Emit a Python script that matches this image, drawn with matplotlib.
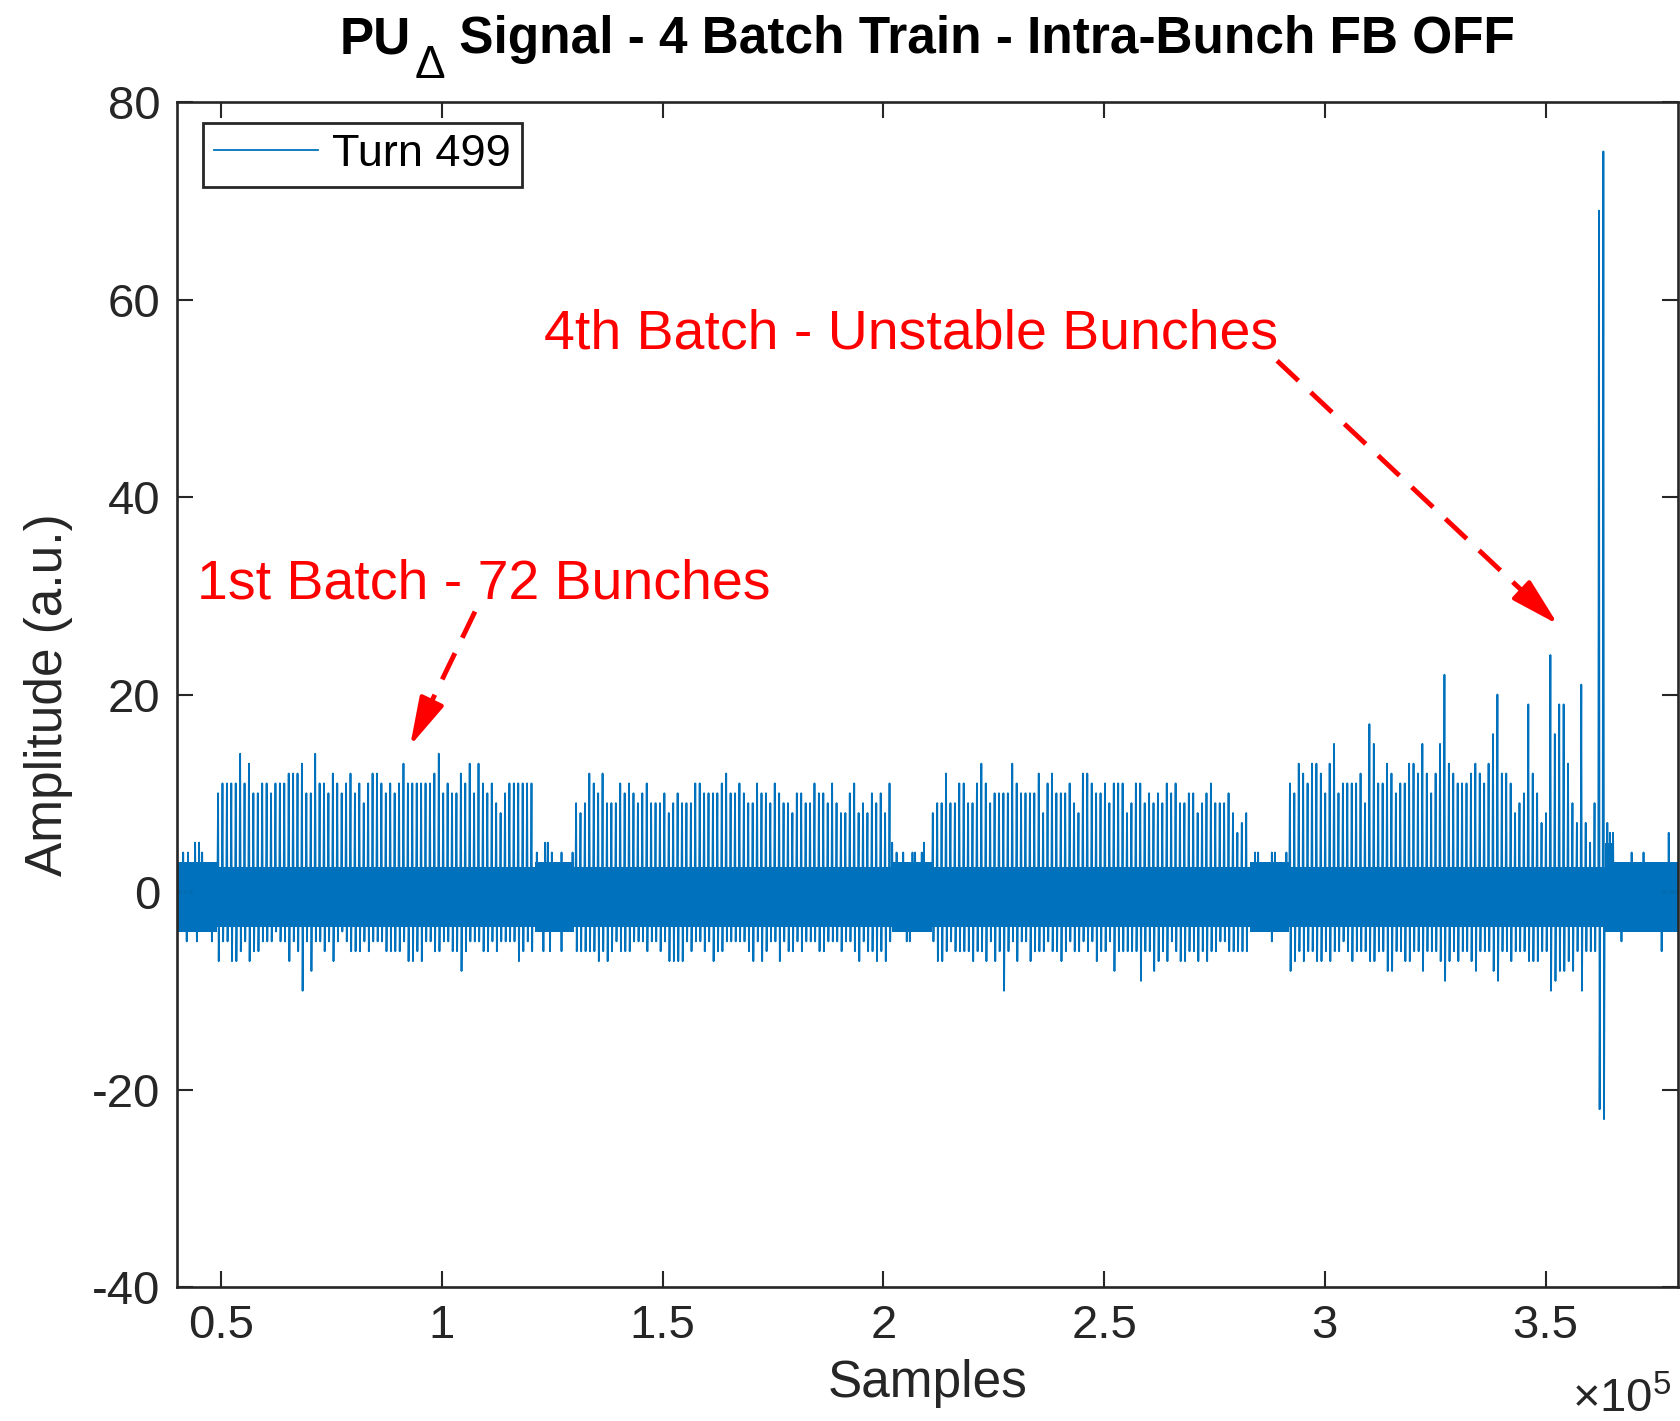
import numpy as np
import matplotlib.pyplot as plt
from matplotlib.ticker import FixedLocator, FuncFormatter

plt.rcParams['font.family'] = ['Liberation Sans', 'DejaVu Sans']
plt.rcParams['mathtext.fontset'] = 'custom'
plt.rcParams['mathtext.rm'] = 'Liberation Sans'
plt.rcParams['mathtext.it'] = 'Liberation Sans:italic'
plt.rcParams['mathtext.bf'] = 'Liberation Sans:bold'
plt.rcParams['axes.unicode_minus'] = False

# ---- data ----
batch_starts = [49300, 130400, 211200, 292100]   # sample of first bunch in each batch
bunch_spacing = 1000

batch1_peaks = [10, 11, 11, 11, 11, 14, 11, 13, 10, 10, 11, 11, 10, 11, 11, 11, 12, 12, 12, 13,
                10, 10, 14, 11, 11, 10, 12, 11, 10, 11, 12, 10, 11, 9, 11, 12, 12, 11, 10, 11,
                10, 11, 13, 11, 11, 11, 11, 11, 11, 12, 14, 10, 11, 10, 10, 12, 11, 13, 10, 13,
                11, 10, 11, 9, 8, 10, 11, 11, 11, 11, 11, 11]
batch1_dips = [-7, -5, -5, -7, -7, -6, -5, -7, -6, -6, -5, -5, -5, -4, -5, -5, -7, -5, -6, -10,
               -5, -8, -5, -5, -6, -5, -7, -5, -4, -5, -6, -6, -6, -5, -6, -5, -5, -5, -6, -6,
               -6, -6, -5, -7, -7, -6, -7, -5, -5, -6, -6, -5, -5, -6, -6, -8, -6, -5, -5, -5,
               -6, -6, -5, -6, -5, -5, -5, -5, -7, -6, -5, -6]

batch2_peaks = [9, 8, 9, 12, 11, 10, 12, 9, 9, 9, 11, 10, 11, 10, 9, 10, 11, 9, 9, 9,
                10, 8, 9, 10, 9, 9, 9, 11, 11, 10, 10, 10, 10, 11, 12, 10, 10, 11, 10, 9,
                9, 11, 10, 10, 9, 11, 10, 9, 9, 8, 10, 10, 9, 9, 11, 10, 10, 9, 11, 9,
                8, 8, 10, 11, 8, 9, 8, 10, 9, 10, 8, 11]
batch2_dips = [-6, -6, -6, -6, -6, -7, -6, -7, -6, -5, -6, -6, -6, -5, -5, -5, -6, -5, -5, -6,
               -5, -7, -7, -7, -7, -5, -6, -5, -5, -6, -5, -7, -6, -6, -5, -5, -5, -5, -5, -6,
               -7, -5, -7, -6, -5, -5, -7, -5, -6, -6, -5, -6, -5, -5, -5, -6, -6, -5, -5, -5,
               -6, -5, -5, -6, -7, -5, -6, -6, -7, -6, -7, -5]

batch3_peaks = [8, 9, 9, 12, 9, 9, 11, 11, 9, 9, 11, 13, 11, 9, 10, 10, 10, 10, 13, 11,
                10, 10, 10, 10, 12, 8, 11, 12, 10, 10, 10, 11, 9, 8, 12, 12, 11, 10, 10, 11,
                9, 11, 11, 11, 8, 9, 11, 11, 9, 10, 9, 10, 9, 11, 10, 11, 9, 9, 10, 10,
                8, 9, 10, 11, 9, 9, 9, 10, 8, 6, 7, 8]
batch3_dips = [-5, -7, -7, -6, -5, -6, -6, -6, -6, -7, -6, -6, -7, -5, -7, -6, -10, -6, -5, -7,
               -5, -5, -7, -6, -6, -6, -5, -6, -6, -7, -6, -5, -6, -6, -5, -6, -5, -7, -6, -6,
               -5, -8, -6, -6, -6, -6, -6, -9, -6, -6, -8, -7, -6, -7, -5, -6, -7, -7, -6, -6,
               -7, -6, -7, -6, -6, -5, -5, -6, -6, -6, -6, -6]

batch4_peaks = [11, 10, 13, 12, 11, 13, 13, 12, 10, 13, 15, 10, 11, 11, 11, 11, 12, 9, 17, 15,
                11, 11, 13, 12, 10, 11, 11, 13, 13, 12, 15, 12, 10, 12, 15, 22, 13, 12, 11, 11,
                11, 12, 13, 12, 11, 13, 16, 20, 12, 12, 11, 8, 9, 10, 19, 12, 10, 7, 8, 24,
                16, 19, 19, 13, 9, 7, 21, 7, 5, 9, 69, 75]
batch4_dips = [-8, -7, -6, -7, -6, -6, -7, -7, -6, -7, -6, -6, -5, -6, -7, -6, -6, -6, -7, -7,
               -6, -6, -8, -8, -6, -6, -7, -7, -6, -6, -8, -6, -6, -6, -7, -9, -7, -6, -7, -6,
               -6, -7, -8, -6, -6, -6, -8, -9, -6, -6, -7, -6, -6, -6, -7, -7, -7, -6, -6, -10,
               -9, -8, -8, -7, -8, -6, -10, -6, -6, -6, -22, -23]

# isolated noise spikes between batches and after the train
gap_up_x = [41400, 42500, 44100, 45000, 45700, 121500, 123400, 124000, 124900, 127100, 129600,
            202000, 203000, 204500, 206600, 207200, 208700, 209200, 284200, 284900, 288000,
            288700, 291300, 364000, 364600, 365300, 369500, 372200, 377900]
gap_up_y = [4, 4, 5, 5, 4, 4, 5, 5, 4, 4, 4,
            5, 4, 4, 4, 4, 4, 5, 4, 4, 4,
            4, 4, 7, 6, 6, 4, 4, 6]
gap_dn_x = [42200, 44500, 47900, 123000, 124500, 127100, 205300, 206000, 288000, 367200, 376300]
gap_dn_y = [-5, -5, -5, -6, -6, -6, -5, -5, -5, -5, -6]

# dense noise core: region edges and band limits
band_edges = [40000, 49000, 121000, 130000, 202000, 211000, 283000, 292000, 363400, 365500, 380000]
band_top = [3, 2.5, 3, 2.5, 3, 2.5, 3, 2.5, 5, 3]
band_bot = [-4, -3.5, -4, -3.5, -4, -3.5, -4, -3.5, -4, -4]

x_ticks = [50000, 100000, 150000, 200000, 250000, 300000, 350000]
y_ticks = [-40, -20, 0, 20, 40, 60, 80]

blue = '#0072BD'
dark = '#262626'

# ---- build the trace ----
events = []
all_peaks = [batch1_peaks, batch2_peaks, batch3_peaks, batch4_peaks]
all_dips = [batch1_dips, batch2_dips, batch3_dips, batch4_dips]
for start, peaks, dips in zip(batch_starts, all_peaks, all_dips):
    for k, (p, d) in enumerate(zip(peaks, dips)):
        x0 = start + k * bunch_spacing
        events.append((x0, [x0 - 150, x0, x0 + 150, x0 + 300], [0, p, d, 0]))
for x0, y0 in zip(gap_up_x + gap_dn_x, gap_up_y + gap_dn_y):
    events.append((x0, [x0 - 100, x0, x0 + 100], [0, y0, 0]))
events.sort(key=lambda e: e[0])

xs = [40000]
ys = [0]
for _, ex, ey in events:
    xs += ex
    ys += ey
xs.append(380000)
ys.append(0)

# ---- figure ----
W, H = 1681, 1421
fig = plt.figure(figsize=(W / 100, H / 100), dpi=100)
ax = fig.add_axes([0.1053, 0.0943, 0.8929, 0.8339])

bx = np.array(band_edges)
ax.fill_between(bx, band_top + [band_top[-1]], band_bot + [band_bot[-1]],
                step='post', color=blue, lw=0)
ax.plot(xs, ys, color=blue, lw=1.3, label='Turn 499')

ax.set_xlim(40000, 380000)
ax.set_ylim(-40, 80)
ax.xaxis.set_major_locator(FixedLocator(x_ticks))
ax.xaxis.set_major_formatter(FuncFormatter(lambda v, p: '%g' % (v / 1e5)))
ax.yaxis.set_major_locator(FixedLocator(y_ticks))

ax.tick_params(direction='in', length=11.5, width=1.5, top=True, right=True,
               labelsize=34, colors=dark, labelcolor=dark)
ax.tick_params(axis='x', pad=12)
ax.tick_params(axis='y', pad=12)
for s in ax.spines.values():
    s.set_linewidth(1.9)
    s.set_color(dark)

ax.set_xlabel('Samples', fontsize=37, color=dark, labelpad=8)
ax.set_ylabel('Amplitude (a.u.)', fontsize=37, color=dark, labelpad=14)
ax.text(0.996, -0.106, r'$\times10^{5}$', transform=ax.transAxes,
        ha='right', va='baseline', fontsize=34, color=dark)

# title in three pieces so the delta subscript can be big and low
t_base = 1 - 53.0 / H
t1 = fig.text(0, t_base, 'PU', fontsize=37, fontweight='bold', va='baseline')
t2 = fig.text(0, 1 - 78.0 / H, '\u0394', fontsize=33, va='baseline')
t3 = fig.text(0, t_base, ' Signal - 4 Batch Train - Intra-Bunch FB OFF',
              fontsize=37, fontweight='bold', va='baseline')
fig.canvas.draw()
r = fig.canvas.get_renderer()
w1 = t1.get_window_extent(r).width
w2 = t2.get_window_extent(r).width
w3 = t3.get_window_extent(r).width
gap = 4
total = w1 + gap + w2 + w3
x_left = (177 + 1678) / 2 - total / 2
t1.set_x(x_left / W)
t2.set_x((x_left + w1 + gap) / W)
t3.set_x((x_left + w1 + gap + w2) / W)

leg = ax.legend(loc='upper left', bbox_to_anchor=(0.0173, 0.9823), borderaxespad=0,
                fontsize=32.5, handlelength=2.3, handletextpad=0.3, borderpad=0.25,
                fancybox=False, framealpha=1)
leg.get_frame().set_edgecolor(dark)
leg.get_frame().set_linewidth(2)

# annotations: dashed shaft + solid arrow head
ax.text(44500, 29.7, '1st Batch - 72 Bunches', color='red', fontsize=40, va='baseline')
ax.text(123200, 55.0, '4th Batch - Unstable Bunches', color='red', fontsize=40, va='baseline')
arrows = [((107500, 28.4), (92800, 14.8), 0.74), ((289200, 53.8), (352800, 27.1), 0.9)]
for (x0, y0), (x1, y1), f in arrows:
    xb = x0 + f * (x1 - x0)
    yb = y0 + f * (y1 - y0)
    ax.plot([x0, xb], [y0, yb], color='red', lw=3.5, dashes=(6, 3.5), solid_capstyle='butt')
    ax.annotate('', xy=(x1, y1), xytext=(xb, yb),
                arrowprops=dict(arrowstyle='-|>,head_length=0.75,head_width=0.2',
                                color='red', lw=3, shrinkA=0, shrinkB=0,
                                mutation_scale=40))

fig.savefig('out.png', dpi=100)
